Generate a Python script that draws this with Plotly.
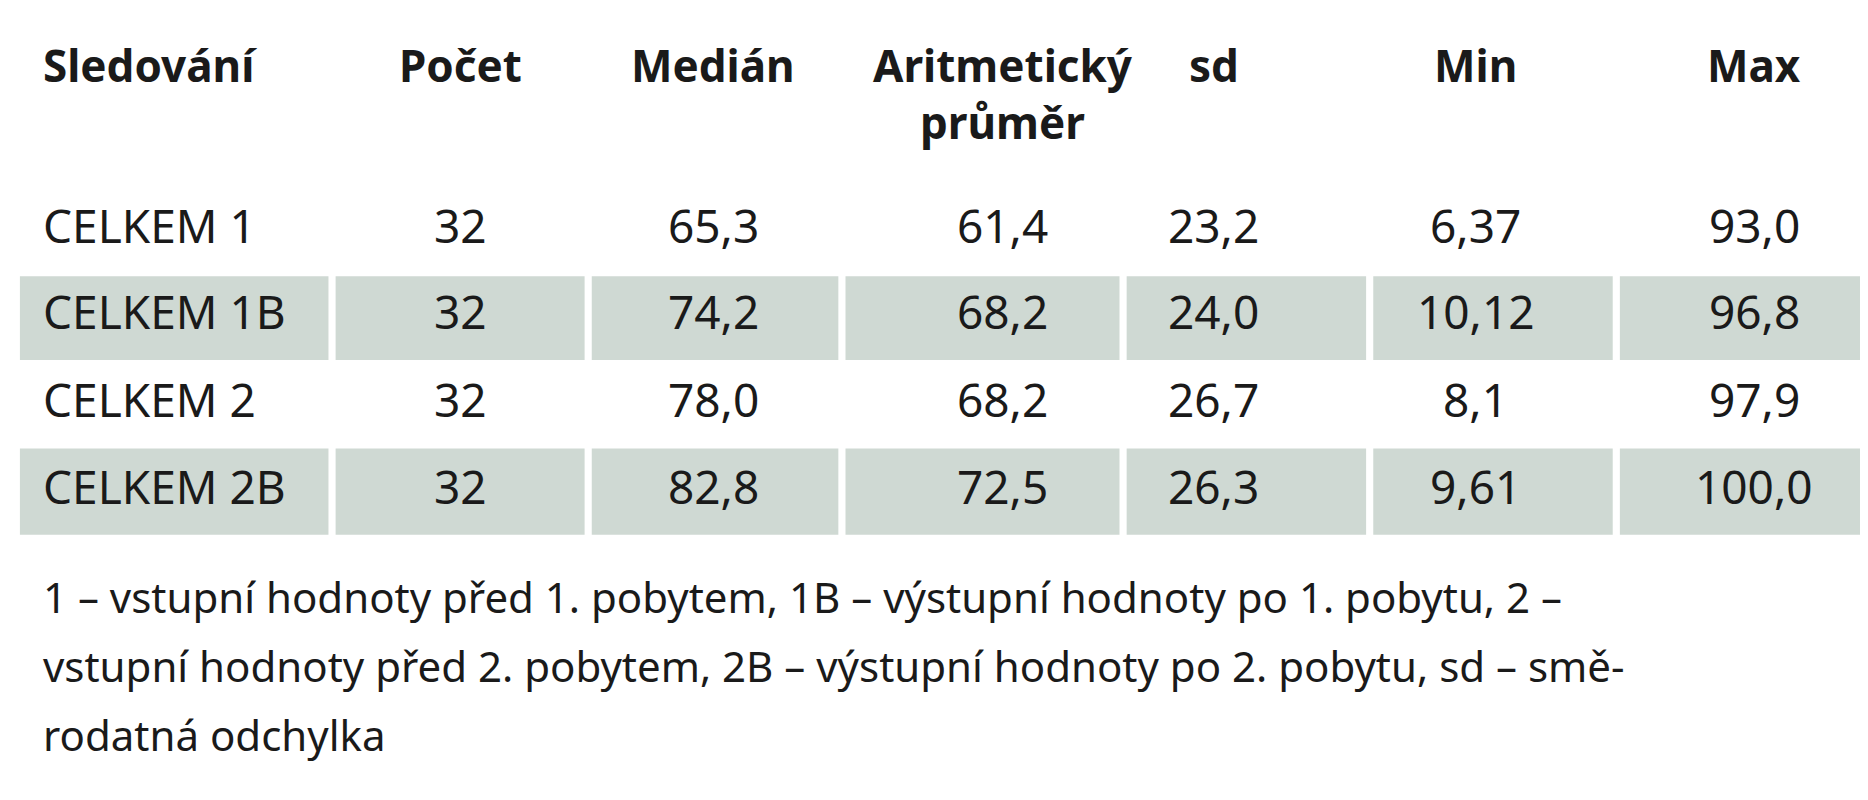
import plotly.graph_objects as go

headers = ["Sledování", "Počet", "Medián", "Aritmetický<br>průměr", "sd", "Min", "Max"]
sledovani = ["CELKEM 1", "CELKEM 1B", "CELKEM 2", "CELKEM 2B"]
pocet = ["32", "32", "32", "32"]
median = ["65,3", "74,2", "78,0", "82,8"]
prumer = ["61,4", "68,2", "68,2", "72,5"]
sd = ["23,2", "24,0", "26,7", "26,3"]
mins = ["6,37", "10,12", "8,1", "9,61"]
maxs = ["93,0", "96,8", "97,9", "100,0"]
footnote = ["1 – vstupní hodnoty před 1. pobytem, 1B – výstupní hodnoty po 1. pobytu, 2 –",
            "vstupní hodnoty před 2. pobytem, 2B – výstupní hodnoty po 2. pobytu, sd – smě-",
            "rodatná odchylka"]

W, H = 1568.0, 650.0
cols = [sledovani, pocet, median, prumer, sd, mins, maxs]
col_x = [28, 380, 592, 835, 1012, 1232, 1466]
bounds = [10, 272, 487, 700, 936, 1143, 1350, 1558]
row_y = [176, 246, 318, 388]
bands = [(218, 286), (358, 428)]

fig = go.Figure()
shapes = []
for (y0, y1) in bands:
    for i in range(7):
        shapes.append(dict(type="rect", xref="paper", yref="paper",
                           x0=(bounds[i] + (3 if i else 0)) / W, x1=(bounds[i+1] - 3) / W,
                           y0=1 - y1 / H, y1=1 - y0 / H,
                           fillcolor="#cfd9d3", line=dict(width=0), layer="below"))
ann = []
font = dict(family="Noto Sans", size=46, color="#1a1a1a")
for i, h in enumerate(headers):
    ann.append(dict(text="<b>" + h + "</b>", x=col_x[i] / W, y=1 - 20 / H, xref="paper", yref="paper",
                    xanchor="left" if i == 0 else "center", yanchor="top", showarrow=False,
                    font=dict(family="Noto Sans", size=44, color="#1a1a1a"), align="center"))
for i, c in enumerate(cols):
    for j, v in enumerate(c):
        ann.append(dict(text=v, x=col_x[i] / W, y=1 - row_y[j] / H, xref="paper", yref="paper",
                        xanchor="left" if i == 0 else "center", yanchor="middle", showarrow=False, font=font))
for k, line in enumerate(footnote):
    ann.append(dict(text=line, x=28 / W, y=1 - (478 + 56 * k) / H, xref="paper", yref="paper",
                    xanchor="left", yanchor="middle", showarrow=False,
                    font=dict(family="Noto Sans", size=42, color="#1a1a1a")))

fig.update_layout(width=1868, height=800, margin=dict(l=0, r=0, t=0, b=0),
                  paper_bgcolor="white", plot_bgcolor="white",
                  xaxis=dict(visible=False), yaxis=dict(visible=False),
                  shapes=shapes, annotations=ann)
fig.write_html("out.html")
